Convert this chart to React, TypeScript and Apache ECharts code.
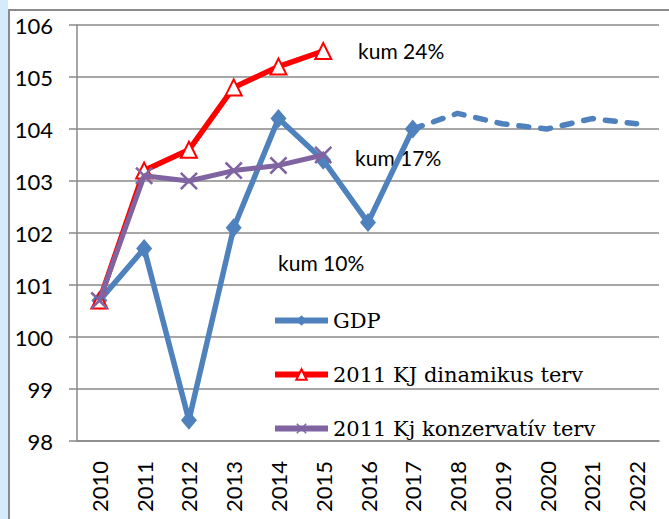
import React, { useEffect, useRef } from "react";
import * as echarts from "echarts";

const years = ["2010", "2011", "2012", "2013", "2014", "2015", "2016", "2017", "2018", "2019", "2020", "2021", "2022"];
const gdp = [100.7, 101.7, 98.4, 102.1, 104.2, 103.4, 102.2, 104.0, null, null, null, null, null];
const gdpForecast = [null, null, null, null, null, null, null, 104.0, 104.3, 104.1, 104.0, 104.2, 104.1];
const dinamikus = [100.7, 103.2, 103.6, 104.8, 105.2, 105.5];
const konzervativ = [100.7, 103.1, 103.0, 103.2, 103.3, 103.5];
const seriesNames = ["GDP", "2011 KJ dinamikus terv", "2011 Kj konzervatív terv"];
const notes = ["kum 24%", "kum 17%", "kum 10%"];

const crossPath =
  "path://M0,1L1,0L5,4L9,0L10,1L6,5L10,9L9,10L5,6L1,10L0,9L4,5Z";

export default function App() {
  const ref = useRef<HTMLDivElement>(null);
  useEffect(() => {
    document.body.style.margin = "0";
    const chart = echarts.init(ref.current!, null, { renderer: "svg" });
    const sans = "Lato, 'Open Sans', sans-serif";
    const serif = "'DejaVu Serif', serif";
    chart.setOption({
      animation: false,
      backgroundColor: "#fff",
      grid: { left: 77, top: 25, right: 10, bottom: 78, containLabel: false },
      legend: {
        orient: "vertical",
        left: 267,
        top: 305,
        itemWidth: 53,
        itemHeight: 13,
        itemGap: 33,
        data: seriesNames,
        lineStyle: { width: 6 },
        textStyle: { fontFamily: serif, fontSize: 21, color: "#000", lineHeight: 20 },
      },
      xAxis: {
        type: "category",
        data: years,
        boundaryGap: true,
        axisLine: { lineStyle: { color: "#888", width: 1.5 } },
        axisTick: { length: 7, lineStyle: { color: "#888", width: 1.5 } },
        axisLabel: { rotate: 90, margin: 20, fontFamily: sans, fontSize: 22, color: "#000", interval: 0 },
        splitLine: { show: false },
      },
      yAxis: {
        type: "value",
        min: 98,
        max: 106,
        interval: 1,
        axisLine: { show: true, lineStyle: { color: "#888", width: 1.5 } },
        axisTick: { show: true, length: 8, lineStyle: { color: "#888", width: 1.5 } },
        axisLabel: { margin: 24, fontFamily: sans, fontSize: 22, color: "#000" },
        splitLine: { lineStyle: { color: "#888", width: 1.5 } },
      },
      series: [
        {
          name: seriesNames[0],
          type: "line",
          data: gdp,
          symbol: "diamond",
          symbolSize: [16, 19],
          lineStyle: { color: "#4F81BD", width: 5.5 },
          itemStyle: { color: "#4F81BD" },
          z: 2,
        },
        {
          name: "GDP forecast",
          type: "line",
          data: gdpForecast,
          showSymbol: false,
          symbol: "none",
          lineStyle: { color: "#4F81BD", width: 5.5, type: [10, 12], cap: "round" },
          itemStyle: { color: "#4F81BD" },
          z: 1,
        },
        {
          name: seriesNames[1],
          type: "line",
          data: dinamikus,
          symbol: "emptyTriangle",
          symbolSize: 16,
          lineStyle: { color: "#FF0000", width: 5.5 },
          itemStyle: { color: "#FF0000", borderWidth: 2 },
          z: 3,
        },
        {
          name: seriesNames[2],
          type: "line",
          data: konzervativ,
          symbol: crossPath,
          symbolSize: 18,
          lineStyle: { color: "#8064A2", width: 5 },
          itemStyle: { color: "#8064A2" },
          z: 4,
        },
      ],
      graphic: [
        { type: "rect", left: 0, top: 0, shape: { width: 8, height: 519 }, style: { fill: "#d3ebfa" }, silent: true },
        {
          type: "rect",
          shape: { x: 9, y: 10, width: 700, height: 600 },
          style: { fill: "none", stroke: "#8a8a8a", lineWidth: 2 },
          silent: true,
        },
        { type: "text", style: { x: 358, y: 50, text: notes[0], font: "21px " + sans, fill: "#000", verticalAlign: "middle" } },
        { type: "text", style: { x: 355, y: 157, text: notes[1], font: "21px " + sans, fill: "#000", verticalAlign: "middle" } },
        { type: "text", style: { x: 278, y: 262, text: notes[2], font: "21px " + sans, fill: "#000", verticalAlign: "middle" } },
      ],
    });
    return () => chart.dispose();
  }, []);
  return <div ref={ref} style={{ width: 669, height: 519 }} />;
}
